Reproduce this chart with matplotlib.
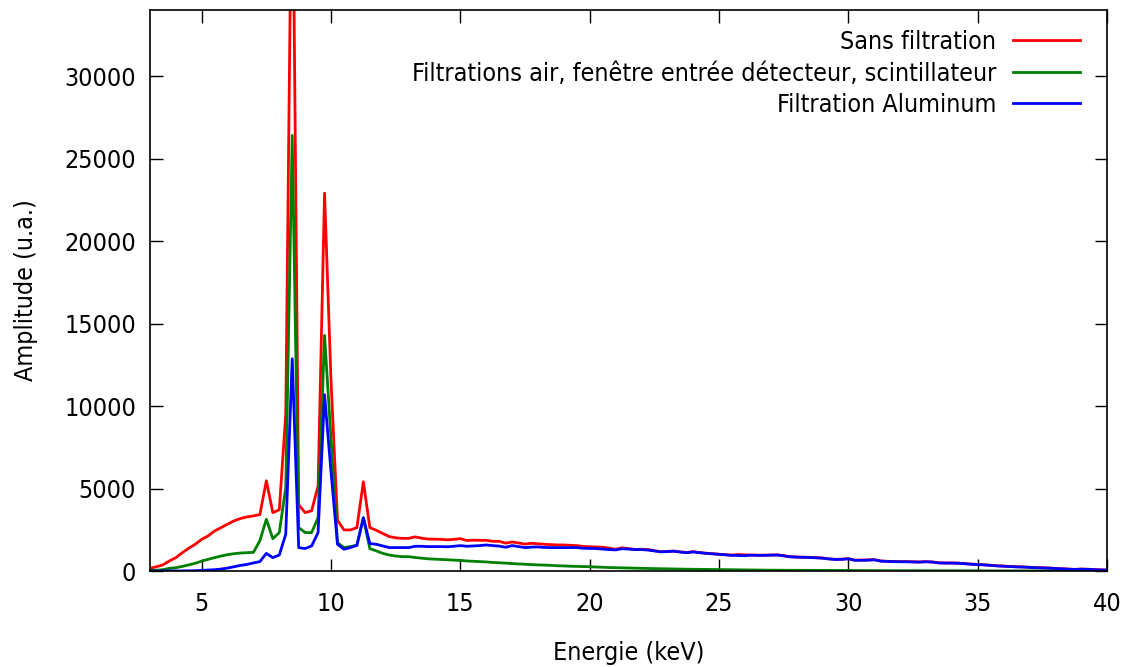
import matplotlib
matplotlib.use("Agg")
import matplotlib.pyplot as plt
import numpy as np

# spectrum channels, 0.25 keV apart, from 3 to 40 keV
energy = np.arange(3.0, 40.001, 0.25)

# one row per keV (4 channels)
sans_filtration = [
    160, 260, 370, 610,          # 3
    810, 1110, 1380, 1620,       # 4
    1920, 2130, 2430, 2630,      # 5
    2840, 3040, 3180, 3280,      # 6
    3340, 3420, 5470, 3540,      # 7
    3710, 9500, 46000, 4010,     # 8
    3540, 3650, 5160, 22900,     # 9
    11500, 3080, 2490, 2490,     # 10
    2630, 5410, 2630, 2470,      # 11
    2270, 2090, 2010, 1980,      # 12
    1980, 2070, 1990, 1940,      # 13
    1930, 1920, 1890, 1920,      # 14
    1960, 1850, 1870, 1860,      # 15
    1860, 1800, 1800, 1690,      # 16
    1760, 1700, 1630, 1680,      # 17
    1650, 1620, 1600, 1580,      # 18
    1580, 1560, 1540, 1490,      # 19
    1470, 1460, 1440, 1390,      # 20
    1320, 1410, 1360, 1310,      # 21
    1320, 1300, 1230, 1170,      # 22
    1190, 1210, 1160, 1120,      # 23
    1170, 1120, 1080, 1050,      # 24
    1020, 990, 970, 1000,        # 25
    980, 970, 960, 960,          # 26
    970, 980, 930, 870,          # 27
    850, 840, 830, 810,          # 28
    790, 740, 710, 720,          # 29
    750, 660, 660, 670,          # 30
    690, 610, 590, 580,          # 31
    570, 570, 560, 550,          # 32
    570, 550, 500, 490,          # 33
    490, 480, 450, 420,          # 34
    400, 380, 350, 320,          # 35
    300, 280, 260, 250,          # 36
    230, 210, 200, 185,          # 37
    160, 140, 120, 100,          # 38
    120, 110, 90, 70,            # 39
    60,                          # 40
]

filtrations_air = [
    50, 50, 80, 160,             # 3
    200, 280, 370, 470,          # 4
    600, 710, 810, 910,          # 5
    990, 1050, 1090, 1110,       # 6
    1130, 1840, 3140, 1960,      # 7
    2330, 5060, 26400, 2630,     # 8
    2330, 2330, 3240, 14280,     # 9
    8000, 1720, 1420, 1480,      # 10
    1560, 3200, 1360, 1220,      # 11
    1070, 970, 910, 870,         # 12
    870, 820, 780, 740,          # 13
    720, 700, 680, 660,          # 14
    640, 610, 590, 570,          # 15
    550, 520, 500, 480,          # 16
    450, 430, 410, 390,          # 17
    370, 360, 340, 320,          # 18
    310, 290, 280, 270,          # 19
    260, 240, 230, 210,          # 20
    200, 190, 180, 170,          # 21
    160, 150, 145, 140,          # 22
    130, 125, 115, 110,          # 23
    105, 100, 95, 90,            # 24
    85, 80, 75, 70,              # 25
    65, 60, 55, 52,              # 26
    50, 48, 45, 42,              # 27
    40, 38, 36, 34,              # 28
    32, 30, 29, 28,              # 29
    27, 26, 25, 24,              # 30
    23, 22, 21, 20,              # 31
    19, 18, 17, 16,              # 32
    15, 15, 14, 14,              # 33
    13, 13, 12, 12,              # 34
    11, 11, 10, 10,              # 35
    9, 9, 8, 8,                  # 36
    7, 7, 7, 6,                  # 37
    6, 6, 5, 5,                  # 38
    5, 5, 4, 4,                  # 39
    4,                           # 40
]

filtration_aluminum = [
    0, 0, 0, 0,                  # 3
    0, 5, 10, 20,                # 4
    40, 60, 80, 120,             # 5
    180, 260, 340, 400,          # 6
    490, 570, 1070, 810,         # 7
    970, 2230, 12860, 1420,      # 8
    1360, 1520, 2330, 10690,     # 9
    6000, 1620, 1320, 1420,      # 10
    1560, 3240, 1660, 1620,      # 11
    1520, 1420, 1420, 1420,      # 12
    1420, 1500, 1500, 1480,      # 13
    1480, 1480, 1470, 1500,      # 14
    1540, 1500, 1520, 1540,      # 15
    1580, 1540, 1510, 1440,      # 16
    1540, 1480, 1420, 1450,      # 17
    1460, 1430, 1420, 1420,      # 18
    1420, 1420, 1420, 1380,      # 19
    1370, 1360, 1330, 1300,      # 20
    1280, 1350, 1330, 1300,      # 21
    1300, 1270, 1220, 1160,      # 22
    1180, 1200, 1150, 1110,      # 23
    1160, 1110, 1070, 1040,      # 24
    1010, 980, 950, 940,         # 25
    930, 960, 950, 950,          # 26
    960, 970, 920, 860,          # 27
    840, 830, 820, 800,          # 28
    780, 730, 700, 710,          # 29
    740, 650, 650, 660,          # 30
    680, 600, 580, 570,          # 31
    560, 560, 550, 540,          # 32
    560, 540, 490, 480,          # 33
    480, 470, 440, 410,          # 34
    390, 370, 340, 310,          # 35
    290, 270, 250, 240,          # 36
    220, 200, 190, 175,          # 37
    150, 130, 110, 95,           # 38
    110, 100, 80, 65,            # 39
    55,                          # 40
]

labels = [
    "Sans filtration",
    "Filtrations air, fenêtre entrée détecteur, scintillateur",
    "Filtration Aluminum",
]
colors = ["#ff0000", "#008000", "#0000ff"]
series = [sans_filtration, filtrations_air, filtration_aluminum]

plt.rcParams["font.family"] = ["DejaVu Sans"]
plt.rcParams["font.stretch"] = "condensed"
plt.rcParams["font.size"] = 18

fig = plt.figure(figsize=(11.3, 6.67), dpi=100)
ax = fig.add_axes([0.1327, 0.1439, 0.847, 0.8411])

for vals, lab, col in zip(series, labels, colors):
    ax.plot(energy, vals, color=col, lw=2.0, label=lab)

ax.set_xlim(3, 40)
ax.set_ylim(0, 34000)
ax.set_xticks(np.arange(5, 41, 5))
ax.set_yticks(np.arange(0, 30001, 5000))
ax.tick_params(direction="in", length=9, width=1, top=True, right=True)
ax.tick_params(axis="x", pad=15)
ax.tick_params(axis="y", pad=10)
for s in ax.spines.values():
    s.set_linewidth(1.2)

ax.set_xlabel("Energie (keV)", labelpad=18)
ax.set_ylabel("Amplitude (u.a.)", labelpad=19)

ax.legend(loc="upper right", frameon=False, markerfirst=False,
          handlelength=2.7, handletextpad=0.65, labelspacing=0.3,
          borderpad=0, borderaxespad=0,
          bbox_to_anchor=(1080 / 1130, 1 - 30 / 667),
          bbox_transform=fig.transFigure)

fig.savefig("out.png", dpi=100)
